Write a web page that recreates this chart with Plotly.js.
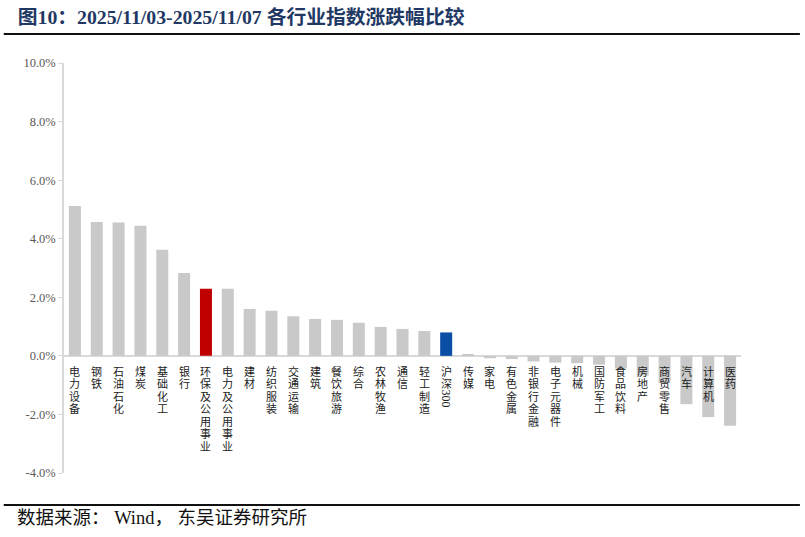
<!DOCTYPE html>
<html>
<head>
<meta charset="utf-8">
<script src="https://cdn.plot.ly/plotly-3.0.1.min.js"></script>
<style>html,body{margin:0;padding:0;background:#fff;}#chart{width:805px;height:537px;}</style>
</head>
<body>
<div id="chart"></div>
<script>
const categories = ["电力设备","钢铁","石油石化","煤炭","基础化工","银行","环保及公用事业","电力及公用事业","建材","纺织服装","交通运输","建筑","餐饮旅游","综合","农林牧渔","通信","轻工制造","沪深300","传媒","家电","有色金属","非银行金融","电子元器件","机械","国防军工","食品饮料","房地产","商贸零售","汽车","计算机","医药"];
const values = [5.12,4.57,4.55,4.44,3.62,2.83,2.29,2.29,1.60,1.54,1.35,1.26,1.23,1.13,0.99,0.92,0.85,0.80,0.05,-0.08,-0.11,-0.19,-0.23,-0.25,-0.30,-0.43,-0.67,-0.93,-1.65,-2.09,-2.39];
const highlightRed = "环保及公用事业";
const highlightBlue = "沪深300";
const yTickVals = [-4,-2,0,2,4,6,8,10];
const titleText = "<b>图10：2025/11/03-2025/11/07 各行业指数涨跌幅比较</b>";
const sourceText = "数据来源： Wind， 东吴证券研究所";

const colors = categories.map(c => c === highlightRed ? "#c00000" : (c === highlightBlue ? "#0b4ea6" : "#c9c9c9"));

const cjk = "Noto Sans CJK SC";
const labelFont = {family: cjk, size: 11, color: "#222"};
const charPitch = 12.45;
const annotations = [];
categories.forEach(c => {
  // vertical label: CJK characters stacked, trailing digits rotated
  const m = c.match(/^(.*?)(\d+)$/);
  const cjkPart = m ? m[1] : c;
  const chars = Array.from(cjkPart);
  chars.forEach((ch, i) => {
    annotations.push({x: c, y: 0, xref: "x", yref: "y", yanchor: "middle", xanchor: "center",
      yshift: -15 - i * charPitch, text: ch, showarrow: false, font: labelFont});
  });
  if (m) {
    annotations.push({x: c, y: 0, xref: "x", yref: "y", yanchor: "middle", xanchor: "center",
      yshift: -15 - chars.length * charPitch - 3, text: m[2], textangle: 90, showarrow: false,
      font: {family: "Liberation Serif", size: 12, color: "#222"}});
  }
});
annotations.push({x: -0.072, y: -0.11, xref: "paper", yref: "paper", xanchor: "left", yanchor: "middle",
  text: sourceText, showarrow: false, font: {family: "Liberation Serif, " + cjk, size: 18.5, color: "#111"}});

const trace = {
  type: "bar", x: categories, y: values,
  marker: {color: colors, line: {width: 0}},
  hoverinfo: "x+y"
};

const layout = {
  width: 805, height: 537,
  margin: {l: 64, r: 64, t: 63, b: 64},
  paper_bgcolor: "#fff", plot_bgcolor: "#fff",
  bargap: 0.45,
  showlegend: false,
  title: {text: titleText, x: 0.022, xanchor: "left", xref: "container", y: 0.968, yanchor: "middle", yref: "container",
    font: {family: "Liberation Serif, " + cjk, size: 19.8, color: "#1f3864"}},
  xaxis: {type: "category", range: [-0.5, categories.length - 0.5], showticklabels: false, showgrid: false,
    zeroline: false, showline: false, ticks: ""},
  yaxis: {range: [-4, 10], tickmode: "array", tickvals: yTickVals, ticktext: yTickVals.map(v => v.toFixed(1) + "%"),
    showgrid: false,
    zeroline: true, zerolinecolor: "#d9d9d9", zerolinewidth: 2,
    showline: true, linecolor: "#d9d9d9", linewidth: 1.5,
    ticks: "outside", ticklen: 4, tickcolor: "#d9d9d9",
    tickfont: {family: "Liberation Serif", size: 12.5, color: "#595959"}},
  annotations: annotations,
  shapes: [
    {type: "line", xref: "paper", yref: "paper", x0: -0.089, x1: 1.087, y0: 1.071, y1: 1.071, line: {color: "#111", width: 2}},
    {type: "line", xref: "paper", yref: "paper", x0: -0.089, x1: 1.087, y0: -0.078, y1: -0.078, line: {color: "#111", width: 2}}
  ]
};

Plotly.newPlot("chart", [trace], layout, {displayModeBar: false});
</script>
</body>
</html>
